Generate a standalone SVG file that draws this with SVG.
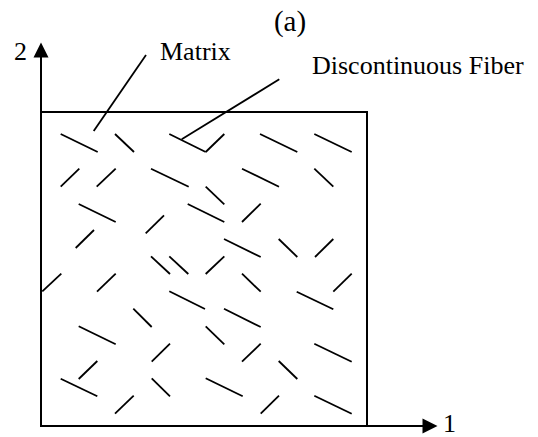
<svg xmlns="http://www.w3.org/2000/svg" width="538" height="437" viewBox="0 0 538 437">
<style>
.t{font-family:"Liberation Serif","Times New Roman",serif;font-size:26px;fill:#000}
.ln{stroke:#000;stroke-width:2;fill:none}
.f{stroke:#000;stroke-width:1.8;fill:none;stroke-linecap:butt}
</style>
<rect width="538" height="437" fill="#fff"/>
<g id="title"><text class="t" x="290" y="31" text-anchor="middle" style="font-size:29px">(a)</text></g>
<g id="axes">
<line class="ln" x1="41" y1="426" x2="41" y2="55"/>
<polygon points="41,42.5 33.5,57.5 48.5,57.5" fill="#000"/>
<text class="t" x="14" y="59.5">2</text>
<line class="ln" x1="41" y1="426" x2="424" y2="426"/>
<polygon points="437.5,426 422.5,418.5 422.5,433.5" fill="#000"/>
<text class="t" x="443" y="432">1</text>
</g>
<g id="composite">
<rect class="ln" x="41" y="112" width="326" height="314"/>
<g id="fibers" class="f">
<line x1="60.7" y1="134" x2="97.7" y2="152"/>
<line x1="115" y1="134" x2="134" y2="152"/>
<line x1="169.3" y1="134" x2="205.7" y2="152"/>
<line x1="205.7" y1="152" x2="224.3" y2="134"/>
<line x1="260" y1="134" x2="297.3" y2="152"/>
<line x1="314.3" y1="134" x2="351.7" y2="152"/>
<line x1="60.7" y1="186.7" x2="79.3" y2="168.7"/>
<line x1="96.7" y1="186.7" x2="115.7" y2="168.7"/>
<line x1="151" y1="168.7" x2="188.7" y2="186.7"/>
<line x1="242" y1="168.7" x2="279" y2="186.7"/>
<line x1="314.3" y1="168.7" x2="333.3" y2="186.7"/>
<line x1="205.7" y1="186.7" x2="224.3" y2="204.3"/>
<line x1="78.7" y1="204" x2="115.7" y2="222"/>
<line x1="187.7" y1="204" x2="224.3" y2="222"/>
<line x1="242" y1="222" x2="260.7" y2="203.7"/>
<line x1="145.7" y1="233.3" x2="164" y2="215.3"/>
<line x1="75.7" y1="248" x2="94" y2="230"/>
<line x1="224" y1="239" x2="260.7" y2="257"/>
<line x1="278.7" y1="239" x2="297.3" y2="257"/>
<line x1="315" y1="257" x2="333.3" y2="239"/>
<line x1="151" y1="256.3" x2="170" y2="274"/>
<line x1="169.3" y1="256.3" x2="188.3" y2="274"/>
<line x1="205.7" y1="274" x2="224.3" y2="256.3"/>
<line x1="42.3" y1="291.3" x2="61.3" y2="273.7"/>
<line x1="97" y1="291.7" x2="115.7" y2="273.7"/>
<line x1="242" y1="273.7" x2="260.7" y2="291.7"/>
<line x1="333.3" y1="291.7" x2="351.7" y2="273.7"/>
<line x1="169.3" y1="291.3" x2="205" y2="309"/>
<line x1="296.7" y1="291.7" x2="333.3" y2="309.3"/>
<line x1="133.3" y1="308.7" x2="151.7" y2="327"/>
<line x1="224" y1="308.7" x2="260.7" y2="327"/>
<line x1="78.7" y1="326.3" x2="115.7" y2="344.3"/>
<line x1="205.7" y1="326.3" x2="224.3" y2="344.3"/>
<line x1="151.7" y1="361.7" x2="170" y2="343.7"/>
<line x1="242" y1="361.7" x2="260.7" y2="343.7"/>
<line x1="314.3" y1="343.7" x2="351.7" y2="361.7"/>
<line x1="78.7" y1="379" x2="97.3" y2="361"/>
<line x1="278.7" y1="361" x2="297.3" y2="379"/>
<line x1="60.7" y1="378.7" x2="97.3" y2="396.3"/>
<line x1="151.7" y1="378.3" x2="170" y2="396.3"/>
<line x1="205.7" y1="378.3" x2="242.7" y2="396.3"/>
<line x1="115" y1="413.7" x2="133.7" y2="395.7"/>
<line x1="260.7" y1="413.7" x2="279" y2="395.7"/>
<line x1="314.3" y1="395.7" x2="351.7" y2="413.7"/>
</g>
</g>
<g id="label-matrix"><text class="t" x="160" y="59.5">Matrix</text></g>
<g id="label-fiber"><text class="t" x="312" y="74">Discontinuous Fiber</text></g>
<g id="connectors" class="f">
<line x1="146" y1="55" x2="93.7" y2="131"/>
<line x1="279.3" y1="79.3" x2="181.7" y2="139.3"/>
</g>
</svg>
